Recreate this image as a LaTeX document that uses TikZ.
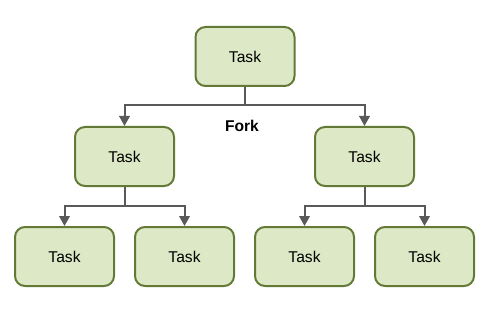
\documentclass[tikz,border=0pt]{standalone}
\usepackage{fontspec}
\setmainfont{Liberation Sans}
\usetikzlibrary{arrows.meta}
\definecolor{taskfill}{HTML}{DDE8C6}
\definecolor{taskdraw}{HTML}{627A35}
\definecolor{linec}{HTML}{595959}
\begin{document}
\begin{tikzpicture}[x=1pt,y=-1pt,
  taskbox/.style={draw=taskdraw,fill=taskfill,line width=2pt,rounded corners=10pt,
    minimum width=99pt,minimum height=59pt,inner sep=0pt,
    font=\fontsize{15.6}{18}\selectfont},
  conn/.style={draw=linec,line width=2pt},
  arr/.style={conn,-{Triangle[width=10.5pt,length=10pt]}}]
\useasboundingbox (0,0) rectangle (490,326);
\node[taskbox] (t) at (245,56.5) {Task};
\node[taskbox] (m1) at (124.5,156.5) {Task};
\node[taskbox] (m2) at (364.5,156.5) {Task};
\node[taskbox] (b1) at (64.5,256.5) {Task};
\node[taskbox] (b2) at (184.5,256.5) {Task};
\node[taskbox] (b3) at (304.5,256.5) {Task};
\node[taskbox] (b4) at (424.5,256.5) {Task};
\coordinate (f0) at (245,105);
\coordinate (f1) at (124.5,206);
\coordinate (f2) at (364.5,206);
\draw[conn] (t.south) -- (f0);
\draw[arr] (f0) -| (m1.north);
\draw[arr] (f0) -| (m2.north);
\draw[conn] (m1.south) -- (f1);
\draw[arr] (f1) -| (b1.north);
\draw[arr] (f1) -| (b2.north);
\draw[conn] (m2.south) -- (f2);
\draw[arr] (f2) -| (b3.north);
\draw[arr] (f2) -| (b4.north);
\node[font=\bfseries\fontsize{15.6}{18}\selectfont] (fork) at (242,126) {Fork};
\end{tikzpicture}
\end{document}
